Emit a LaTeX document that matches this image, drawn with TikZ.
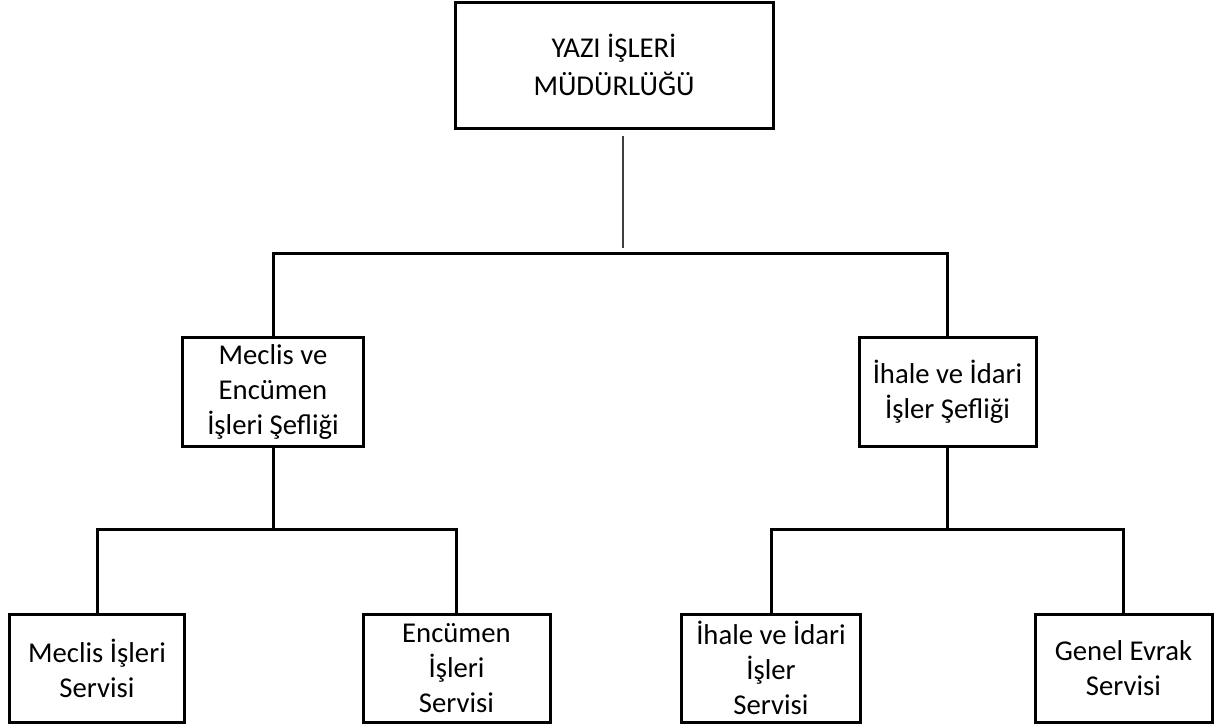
\documentclass[tikz,border=0pt]{standalone}
\usepackage{fontspec}
\setmainfont{Carlito}
\begin{document}
\begin{tikzpicture}[x=1pt,y=-1pt,
  box/.style={draw, line width=3pt, rectangle, inner sep=0pt, align=center,
    font=\fontsize{28.7}{35}\selectfont},
  topbox/.style={box, font=\fontsize{28.7}{38}\selectfont},
  conn/.style={line width=3pt, line cap=rect},
  thinconn/.style={line width=1.3pt, draw=black!75}]
\useasboundingbox (0,0) rectangle (1224,728);
% boxes
\node[topbox, minimum width=318pt, minimum height=126pt] (top) at (614,65) {YAZI İŞLERİ\\MÜDÜRLÜĞÜ};
\node[box, minimum width=181pt, minimum height=109pt] (mL) at (273,391.5) {Meclis ve\\Encümen\\İşleri Şefliği};
\node[box, minimum width=177pt, minimum height=109pt] (mR) at (947.5,391.5) {İhale ve İdari\\İşler Şefliği};
\node[box, minimum width=175pt, minimum height=108pt] (b1) at (97,668) {Meclis İşleri\\Servisi};
\node[box, minimum width=187pt, minimum height=108pt] (b2) at (456.5,668) {Encümen\\İşleri\\Servisi};
\node[box, minimum width=179pt, minimum height=108pt] (b3) at (771,668) {İhale ve İdari\\İşler\\Servisi};
\node[box, minimum width=177pt, minimum height=108pt] (b4) at (1123.5,668) {Genel Evrak\\Servisi};
% helper coordinates
\coordinate (busA) at (0,253);
\coordinate (busB) at (0,529);
\coordinate (t1) at (623,136);
\coordinate (t2) at (623,248);
% connectors
\draw[thinconn] (t1) -- (t2);
\draw[conn] (mL.north) -- (mL.north |- busA) -- (mR.north |- busA) -- (mR.north);
\draw[conn] (mL.south) -- (mL.south |- busB);
\draw[conn] (mR.south) -- (mR.south |- busB);
\draw[conn] (b1.north) -- (b1.north |- busB) -- (b2.north |- busB) -- (b2.north);
\draw[conn] (b3.north) -- (b3.north |- busB) -- (b4.north |- busB) -- (b4.north);
\end{tikzpicture}
\end{document}
